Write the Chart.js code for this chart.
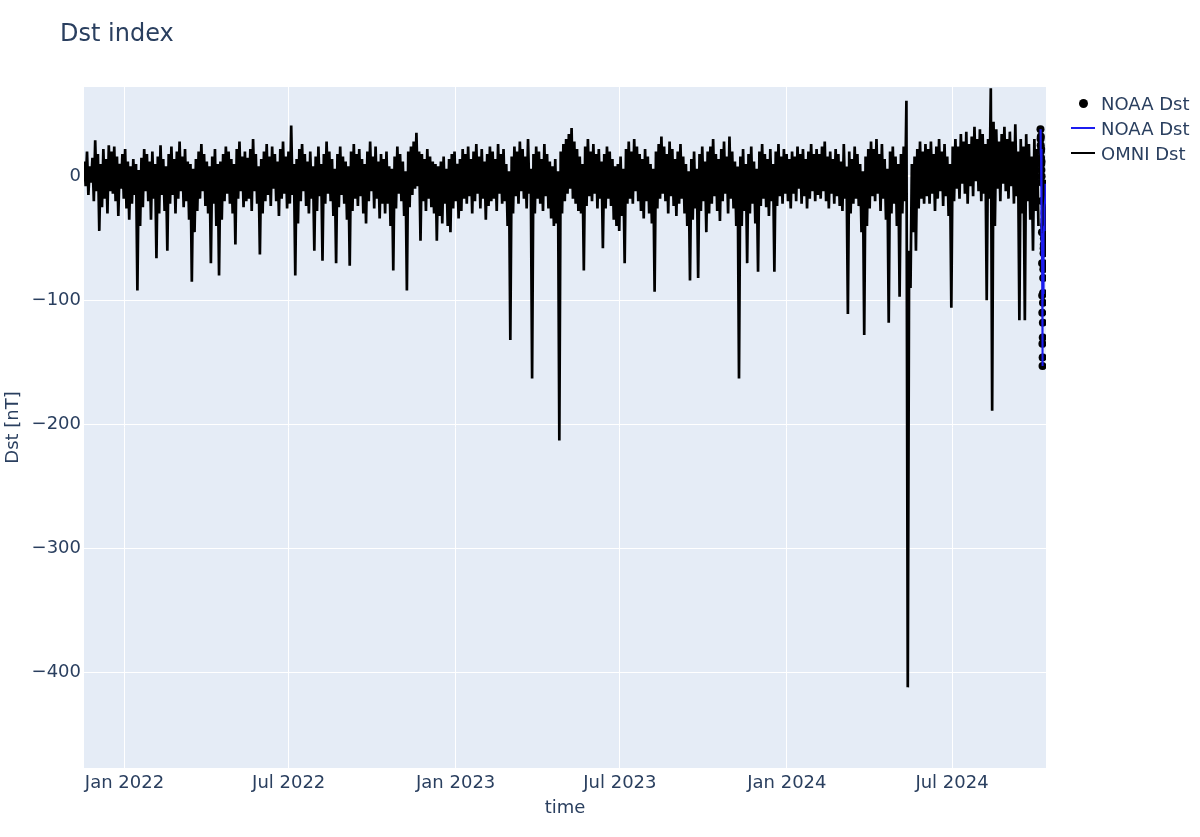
<!DOCTYPE html>
<html>
<head>
<meta charset="utf-8">
<title>Dst index</title>
<script src="https://cdn.jsdelivr.net/npm/chart.js@4.4.1/dist/chart.umd.min.js"></script>
<style>
  html, body { margin: 0; padding: 0; background: #fff; }
  #wrap { position: relative; width: 1200px; height: 837px; font-family: "DejaVu Sans", Verdana, sans-serif; color: #2a3f5f; }
  #title { position: absolute; left: 60px; top: 19px; font-size: 24px; }
  #legend { position: absolute; left: 1068px; top: 91px; font-size: 18px; }
  .item { height: 25px; display: flex; align-items: center; }
  .sym { width: 28px; height: 25px; position: relative; margin-right: 5px; }
  .dot { position: absolute; left: 11px; top: 8px; width: 9px; height: 9px; border-radius: 50%; }
  .ln { position: absolute; left: 3px; top: 11px; width: 24px; height: 2px; }
  canvas { position: absolute; left: 0; top: 0; }
</style>
</head>
<body>
<div id="wrap">
  <canvas id="chart" width="1200" height="837"></canvas>
  <div id="title">Dst index</div>
  <div id="legend"></div>
</div>
<script>
// OMNI Dst in 3-day bins starting 17 Nov 2021: upper and lower excursion per bin
const omniHigh = [
  12, 20, 8, 15, 29, 18, 10, 22, 14, 25,
  20, 24, 16, 10, 18, 22, 12, 8, 14, 10,
  5, 15, 22, 18, 12, 20, 10, 16, 25, 14,
  8, 18, 24, 14, 20, 28, 16, 22, 12, 10,
  6, 14, 20, 26, 18, 12, 8, 16, 22, 10,
  12, 18, 24, 20, 14, 10, 22, 28, 16, 20,
  15, 22, 30, 18, 8, 14, 20, 26, 16, 24,
  18, 12, 22, 28, 16, 20, 41, 10, 14, 22,
  26, 18, 12, 20, 8, 16, 24, 10, 18, 28,
  20, 14, 6, 18, 24, 16, 12, 8, 20, 26,
  18, 22, 14, 10, 20, 28, 16, 24, 12, 18,
  14, 20, 8, 6, 16, 24, 18, 12, 4, 20,
  24, 28, 35, 20, 18, 14, 22, 16, 12, 10,
  8, 12, 16, 6, 14, 18, 20, 10, 14, 22,
  18, 24, 14, 20, 26, 16, 22, 12, 18, 24,
  20, 14, 26, 18, 22, 10, 4, 16, 24, 20,
  28, 22, 16, 30, 6, 18, 24, 20, 14, 26,
  18, 12, 8, 14, 4, 20, 26, 30, 34, 39,
  28, 22, 16, 10, 24, 30, 20, 26, 18, 22,
  12, 18, 24, 20, 14, 8, 10, 16, 6, 22,
  28, 20, 30, 24, 18, 14, 22, 16, 10, 6,
  20, 26, 32, 24, 18, 28, 22, 14, 20, 26,
  16, 10, 4, 14, 20, 6, 18, 24, 12, 20,
  24, 30, 18, 14, 22, 28, 16, 32, 20, 12,
  8, 16, 22, 10, 18, 24, 12, 6, 20, 26,
  18, 14, 22, 10, 20, 26, 16, 22, 18, 14,
  20, 16, 24, 18, 22, 14, 20, 26, 18, 22,
  18, 24, 28, 16, 20, 14, 22, 18, 12, 26,
  8, 20, 14, 24, 18, 10, 4, 16, 22, 28,
  22, 30, 18, 26, 14, 6, 20, 24, 16, 10,
  18, 24, 61, -60, 10, 16, 22, 28, 20, 26,
  22, 28, 18, 24, 30, 20, 26, 16, 10, 24,
  30, 24, 34, 28, 36, 26, 32, 40, 30, 38,
  34, 26, 30, 71, 44, 38, 28, 34, 40, 30,
  36, 28, 42, 20, 30, 24, 34, 26, 16, 30, 22
];
const omniLow = [
  -8, -15, -5, -20, -12, -44, -25, -18, -30, -12,
  -14, -20, -32, -10, -18, -26, -35, -22, -15, -92,
  -40, -25, -12, -20, -35, -18, -66, -30, -15, -28,
  -60, -22, -15, -30, -18, -12, -25, -20, -35, -85,
  -45, -28, -18, -12, -24, -30, -70, -22, -40, -80,
  -35, -20, -14, -22, -30, -55, -18, -12, -25, -20,
  -18, -28, -12, -22, -63, -30, -20, -15, -24, -10,
  -20, -32, -18, -14, -26, -22, -15, -80, -38, -20,
  -12, -24, -30, -18, -60, -28, -16, -68, -22, -14,
  -20, -32, -70, -25, -15, -22, -35, -72, -28, -18,
  -24, -16, -30, -38, -20, -12, -26, -18, -34, -22,
  -30, -22, -40, -76, -26, -14, -20, -32, -92, -25,
  -15, -10, -8, -52, -20, -28, -18, -25, -30, -52,
  -32, -38, -22, -40, -45, -26, -20, -34, -28, -18,
  -22, -16, -30, -20, -14, -26, -18, -35, -24, -20,
  -18, -28, -14, -22, -20, -40, -132, -30, -16, -22,
  -12, -18, -26, -14, -163, -30, -18, -22, -28, -16,
  -26, -34, -40, -38, -213, -30, -20, -14, -10, -18,
  -22, -28, -30, -76, -24, -16, -20, -14, -26, -18,
  -58, -26, -18, -24, -35, -40, -44, -32, -70, -22,
  -18, -22, -12, -20, -28, -34, -20, -30, -38, -93,
  -26, -18, -14, -20, -30, -16, -24, -32, -22, -18,
  -30, -40, -84, -35, -26, -82, -28, -20, -45, -30,
  -22, -16, -28, -36, -20, -14, -30, -18, -26, -40,
  -163, -40, -28, -70, -30, -22, -38, -77, -24, -18,
  -25, -32, -20, -77, -24, -16, -22, -14, -20, -26,
  -14, -20, -10, -22, -16, -26, -18, -12, -20, -15,
  -18, -12, -20, -26, -14, -22, -16, -24, -28, -18,
  -111, -30, -22, -18, -24, -45, -128, -40, -26, -16,
  -20, -14, -28, -18, -35, -118, -30, -22, -40, -97,
  -30, -20, -412, -90, -45, -60, -26, -18, -22, -16,
  -22, -14, -28, -18, -12, -24, -16, -32, -106, -20,
  -10, -18, -6, -14, -22, -8, -16, -4, -12, -20,
  -14, -100, -18, -189, -40, -10, -20, -6, -12, -18,
  -8, -22, -16, -116, -30, -116, -20, -35, -60, -28, -40
];
// NOAA Dst, 3-hourly from 6 Oct 2024 12:00 UT
const noaaDst = [
  38, 30, 25, 32, 20, 15, 22, 10, 5, 12, 0, -5,
  -20, -45, -70, -96, -110, -135, -153, -146,
  -130, -118, -102, -94, -82, -75, -70, -62, -58, -55, -50, -46,
  -40, -44, -38, -35, -30, -28, -32, -25, -20, -22, -15, -18, -12, -10, -8, -6
];
const xTickDates = ["2022-01-01", "2022-07-01", "2023-01-01", "2023-07-01", "2024-01-01", "2024-07-01"];
const xTickLabels = ["Jan 2022", "Jul 2022", "Jan 2023", "Jul 2023", "Jan 2024", "Jul 2024"];
const yTicks = [0, -100, -200, -300, -400];

const DAY = 86400000;
const HOUR = 3600000;
const omniStart = Date.UTC(2021, 10, 17);
const noaaStart = Date.UTC(2024, 9, 6, 12);

const omniPts = [];
omniHigh.forEach((v, i) => {
  omniPts.push({ x: omniStart + (3 * i + 0.75) * DAY, y: v });
  omniPts.push({ x: omniStart + (3 * i + 2.25) * DAY, y: omniLow[i] });
});
const noaaPts = noaaDst.map((v, i) => ({ x: noaaStart + i * 3 * HOUR, y: v }));
const tickTimes = xTickDates.map(d => Date.parse(d + "T00:00:00Z"));

const FONT = "'DejaVu Sans', Verdana, sans-serif";
const TXT = "#2a3f5f";

const plotBg = {
  id: "plotBg",
  beforeDraw(chart) {
    const { ctx, chartArea: a } = chart;
    ctx.save();
    ctx.fillStyle = "#E5ECF6";
    ctx.fillRect(a.left, a.top, a.right - a.left, a.bottom - a.top);
    ctx.restore();
  }
};

const chart = new Chart(document.getElementById("chart"), {
  type: "line",
  data: {
    datasets: [
      {
        label: "NOAA Dst",
        data: noaaPts,
        showLine: false,
        pointRadius: 4,
        pointBackgroundColor: "#000",
        pointBorderColor: "#000",
        pointBorderWidth: 0,
        borderColor: "#000",
        backgroundColor: "#000",
        order: 1
      },
      {
        label: "NOAA Dst",
        data: noaaPts,
        borderColor: "#1c1cf0",
        backgroundColor: "#1c1cf0",
        borderWidth: 2,
        pointRadius: 0,
        order: 0
      },
      {
        label: "OMNI Dst",
        data: omniPts,
        borderColor: "#000",
        backgroundColor: "#000",
        borderWidth: 2.7,
        pointRadius: 0,
        order: 2
      }
    ]
  },
  options: {
    responsive: false,
    animation: false,
    devicePixelRatio: 1,
    layout: { padding: { left: 0, top: 87, right: 154, bottom: 0 } },
    plugins: {
      legend: { display: false },
      tooltip: { enabled: false }
    },
    scales: {
      x: {
        type: "linear",
        min: Date.UTC(2021, 10, 17, 10),
        max: Date.UTC(2024, 9, 12, 14),
        afterFit: s => { s.height = 69; },
        afterBuildTicks: s => { s.ticks = tickTimes.map(v => ({ value: v })); },
        ticks: {
          autoSkip: false,
          maxRotation: 0,
          padding: 5,
          color: TXT,
          font: { family: FONT, size: 18 },
          callback: (v) => xTickLabels[tickTimes.indexOf(v)]
        },
        grid: { color: "#fff", lineWidth: 1, drawTicks: false },
        border: { display: false },
        title: {
          display: true,
          text: "time",
          color: TXT,
          font: { family: FONT, size: 18 },
          padding: { top: 0, bottom: 18 }
        }
      },
      y: {
        min: -477,
        max: 72,
        afterFit: s => { s.width = 84; },
        afterBuildTicks: s => { s.ticks = yTicks.map(v => ({ value: v })); },
        ticks: {
          padding: 3,
          color: TXT,
          font: { family: FONT, size: 18 },
          callback: v => String(v).replace("-", "\u2212")
        },
        grid: {
          color: "#fff",
          lineWidth: c => (c.tick && c.tick.value === 0 ? 2 : 1),
          drawTicks: false
        },
        border: { display: false },
        title: {
          display: true,
          text: "Dst [nT]",
          color: TXT,
          font: { family: FONT, size: 18 },
          padding: { top: 3, bottom: 0 }
        }
      }
    }
  },
  plugins: [plotBg]
});

// legend in the plotly style, built from the chart's datasets
const legend = document.getElementById("legend");
chart.data.datasets.forEach(ds => {
  const item = document.createElement("div");
  item.className = "item";
  const sym = document.createElement("div");
  sym.className = "sym";
  const mark = document.createElement("div");
  if (ds.showLine === false) {
    mark.className = "dot";
    mark.style.background = ds.pointBackgroundColor;
  } else {
    mark.className = "ln";
    mark.style.background = ds.borderColor;
  }
  sym.appendChild(mark);
  item.appendChild(sym);
  item.appendChild(document.createTextNode(ds.label));
  legend.appendChild(item);
});
</script>
</body>
</html>
